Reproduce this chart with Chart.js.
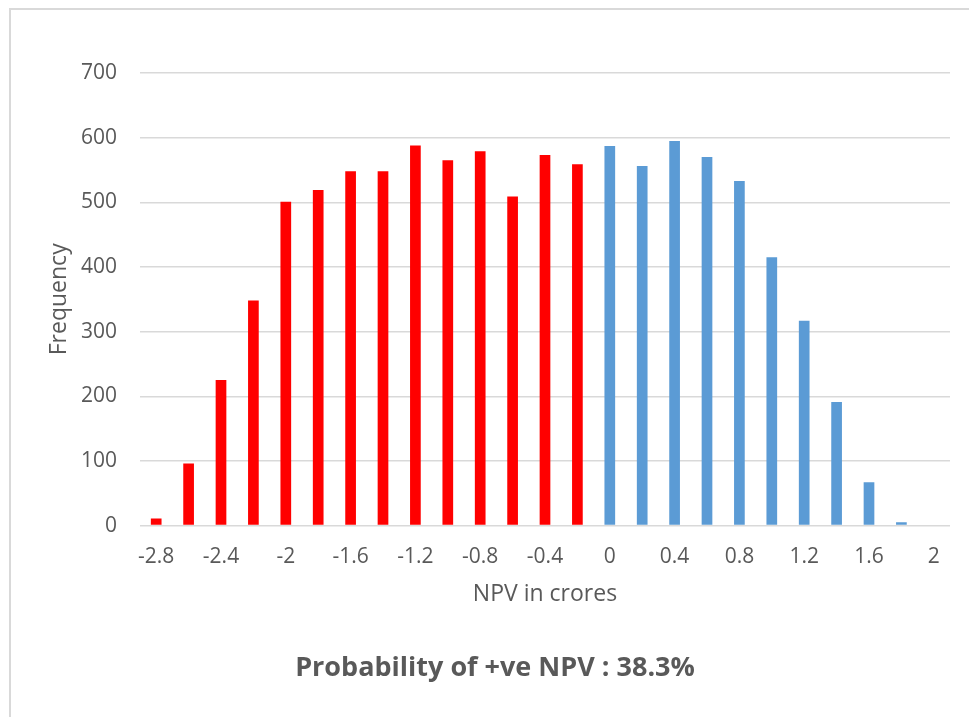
<!DOCTYPE html>
<html>
<head>
<meta charset="utf-8">
<script src="https://cdn.jsdelivr.net/npm/chart.js@4"></script>
<style>
  html, body { margin: 0; padding: 0; background: #fff; }
  #wrap { position: absolute; left: 0; top: 0; width: 969px; height: 717px; overflow: hidden; }
  #frame { position: absolute; left: 9px; top: 8px; width: 1000px; height: 800px; border: 2px solid #d9d9d9; box-sizing: border-box; }
  #c { position: absolute; left: 0; top: 0; }
</style>
</head>
<body>
<div id="wrap">
  <div id="frame"></div>
  <canvas id="c" width="969" height="717"></canvas>
</div>
<script>
// NPV bins (crores)
const categories = [-2.8, -2.6, -2.4, -2.2, -2.0, -1.8, -1.6, -1.4, -1.2, -1.0, -0.8, -0.6, -0.4, -0.2,
                    0.0, 0.2, 0.4, 0.6, 0.8, 1.0, 1.2, 1.4, 1.6, 1.8, 2.0];
// Frequency per bin
const frequencies = [11, 96, 225, 348, 501, 519, 548, 548, 588, 565, 579, 509, 573, 559,
                     587, 556, 595, 570, 533, 415, 317, 191, 67, 5, 0];
// X tick labels (every other bin labelled)
const tickLabels = ['-2.8', '', '-2.4', '', '-2', '', '-1.6', '', '-1.2', '', '-0.8', '', '-0.4', '',
                    '0', '', '0.4', '', '0.8', '', '1.2', '', '1.6', '', '2'];
const yTicks = [0, 100, 200, 300, 400, 500, 600, 700];

const NEG = '#FF0000', POS = '#5B9BD5';
const TXT = '#595959', GRID = '#D9D9D9';
const FONT = "'Open Sans', sans-serif";

new Chart(document.getElementById('c'), {
  type: 'bar',
  data: {
    labels: tickLabels,
    datasets: [{
      label: 'Frequency',
      data: frequencies,
      backgroundColor: categories.map(v => v < 0 ? NEG : POS),
      barPercentage: 0.33,
      categoryPercentage: 1.0,
      borderWidth: 0
    }]
  },
  options: {
    responsive: false,
    animation: false,
    devicePixelRatio: 1,
    layout: { padding: { left: 40, right: 19, top: 73, bottom: 0 } },
    plugins: {
      legend: { display: false },
      tooltip: { enabled: false },
      title: {
        display: true,
        position: 'bottom',
        text: 'Probability of +ve NPV : 38.3%',
        color: TXT,
        font: { family: FONT, size: 27, weight: 'bold', lineHeight: 1.2 },
        padding: { top: 37, bottom: 32 }
      }
    },
    scales: {
      x: {
        grid: { display: false, drawTicks: false },
        border: { display: false },
        ticks: {
          color: TXT, font: { family: FONT, size: 21 },
          autoSkip: false, maxRotation: 0, minRotation: 0, padding: 19
        },
        title: {
          display: true, text: 'NPV in crores', color: TXT,
          font: { family: FONT, size: 23, lineHeight: 1.2 },
          padding: { top: 0, bottom: 7 }
        },
        afterFit: s => { s.height = 90; }
      },
      y: {
        min: 0, max: 700,
        afterBuildTicks: s => { s.ticks = yTicks.map(v => ({ value: v })); },
        grid: { color: GRID, lineWidth: 1.5, drawTicks: false },
        border: { display: false },
        ticks: { color: TXT, font: { family: FONT, size: 21 }, padding: 23 },
        title: {
          display: true, text: 'Frequency', color: TXT,
          font: { family: FONT, size: 23, lineHeight: 1.2 },
          padding: { top: 6, bottom: 0 }
        },
        afterFit: s => { s.width = 100; }
      }
    }
  }
});
</script>
</body>
</html>
